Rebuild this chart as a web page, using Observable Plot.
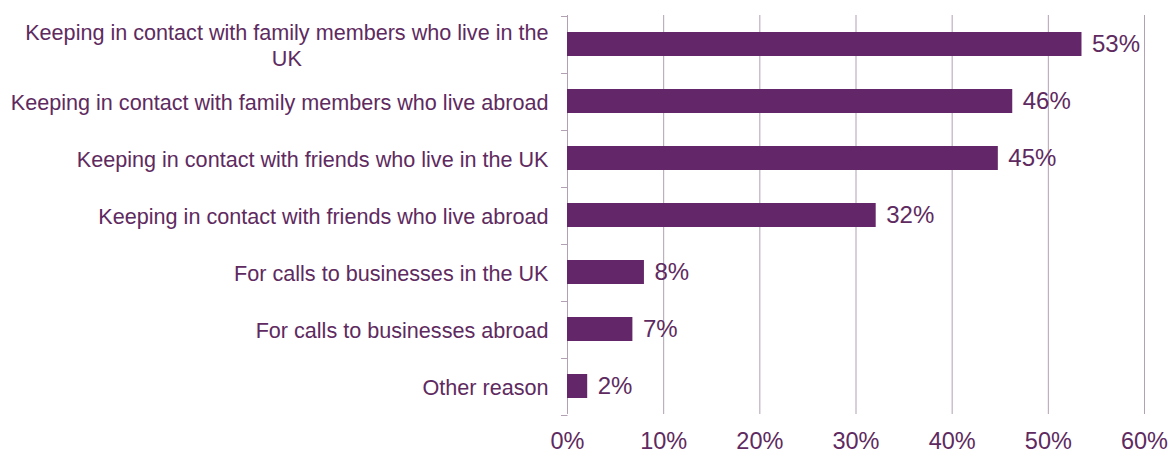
<!DOCTYPE html>
<html><head><meta charset="utf-8">
<script src="https://cdn.jsdelivr.net/npm/d3@7"></script>
<script src="https://cdn.jsdelivr.net/npm/@observablehq/plot@0.6"></script>
<style>body{margin:0;background:#fff}#chart{width:1170px;height:454px}</style>
</head><body><div id="chart"></div>
<script>
const categories = [
  "Keeping in contact with family members who live in the UK",
  "Keeping in contact with family members who live abroad",
  "Keeping in contact with friends who live in the UK",
  "Keeping in contact with friends who live abroad",
  "For calls to businesses in the UK",
  "For calls to businesses abroad",
  "Other reason"
];
const categoryLabels = [
  "Keeping in contact with family members who live in the\nUK",
  "Keeping in contact with family members who live abroad",
  "Keeping in contact with friends who live in the UK",
  "Keeping in contact with friends who live abroad",
  "For calls to businesses in the UK",
  "For calls to businesses abroad",
  "Other reason"
];
const values = [0.535, 0.463, 0.448, 0.321, 0.080, 0.068, 0.021];
const valueLabels = ["53%", "46%", "45%", "32%", "8%", "7%", "2%"];
const xTicks = [0, 0.1, 0.2, 0.3, 0.4, 0.5, 0.6];
const xTickLabels = ["0%", "10%", "20%", "30%", "40%", "50%", "60%"];

const data = categories.map((c, i) => ({category: c, value: values[i], label: valueLabels[i]}));
const ink = "#5e2a60", barColor = "#632668", gridColor = "#b1a1b2";

const plot = Plot.plot({
  width: 1170, height: 454,
  marginLeft: 567, marginRight: 26, marginTop: 15, marginBottom: 40,
  style: {fontFamily: "'Liberation Sans', Arial, sans-serif", color: ink, background: "#fff"},
  x: {domain: [0, 0.6]},
  y: {domain: categories, paddingInner: 0.585, paddingOuter: 0.2925},
  marks: [
    Plot.ruleX(xTicks, {stroke: gridColor, strokeWidth: 1}),
    Plot.barX(data, {y: "category", x: "value", fill: barColor}),
    Plot.text(data, {y: "category", x: "value", text: "label", textAnchor: "start", dx: 10, fontSize: 24, fill: ink}),
    Plot.axisX({ticks: xTicks, tickFormat: d => xTickLabels[xTicks.indexOf(d)], tickSize: 0, tickPadding: 18, fontSize: 23.5, label: null, fill: ink}),
    Plot.axisY({tickSize: 0, tickPadding: 19, fontSize: 21.6, lineHeight: 1.22, label: null, fill: ink,
      tickFormat: d => categoryLabels[categories.indexOf(d)]})
  ]
});
document.getElementById("chart").appendChild(plot);

// boundary tick marks on the category axis, from the library's y scale
const ys = plot.scale("y"), xs = plot.scale("x");
const gap = (ys.step - ys.bandwidth) / 2;
const bounds = categories.map(c => ys.apply(c) - gap);
bounds.push(ys.apply(categories[categories.length - 1]) + ys.bandwidth + gap);
const x0 = xs.apply(0);
d3.select(plot).append("g")
  .attr("stroke", gridColor).attr("stroke-width", 1)
  .selectAll("line").data(bounds).join("line")
  .attr("x1", x0 - 6).attr("x2", x0 + 0.5)
  .attr("y1", d => Math.round(d) + 0.5).attr("y2", d => Math.round(d) + 0.5);

// center the lines of the wrapped category label
d3.select(plot).selectAll("text").each(function() {
  const tspans = this.querySelectorAll("tspan");
  if (tspans.length > 1) {
    const widths = Array.from(tspans, t => t.getComputedTextLength());
    const maxW = Math.max(...widths);
    tspans.forEach((t, i) => t.setAttribute("x", -(maxW - widths[i]) / 2));
  }
});
</script>
</body></html>
